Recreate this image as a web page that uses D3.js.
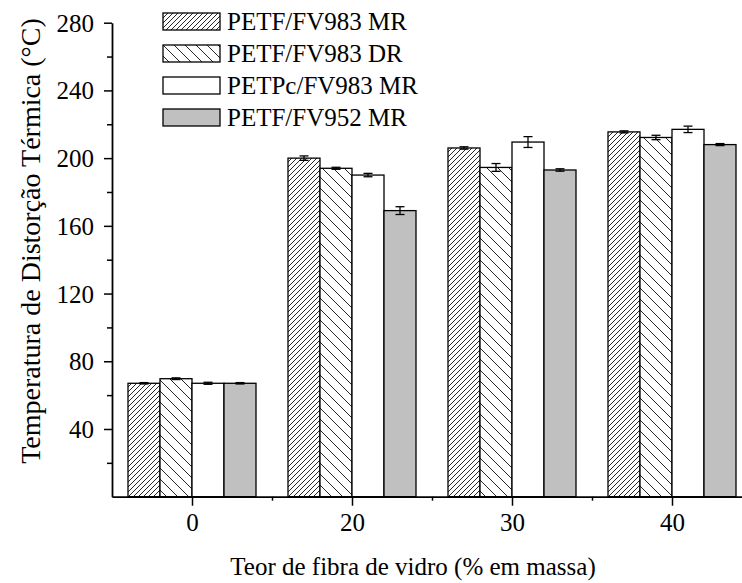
<!DOCTYPE html>
<html><head><meta charset="utf-8">
<script src="https://cdn.jsdelivr.net/npm/d3@7"></script>
<style>body{margin:0;background:#fff}svg{display:block}</style>
</head><body><svg id="c" width="742" height="583"></svg>
<script>
const categories = ["0", "20", "30", "40"];
const seriesNames = ["PETF/FV983 MR", "PETF/FV983 DR", "PETPc/FV983 MR", "PETF/FV952 MR"];
const petfFv983MR = [67, 200, 206, 215.5];
const petfFv983DR = [69.7, 194, 194.5, 212.2];
const petpcFv983MR = [67, 190, 209.5, 217];
const petfFv952MR = [67, 169, 193, 208];
const errFv983MR = [0.4, 1.3, 0.7, 0.6];
const errFv983DR = [0.5, 0.6, 2.3, 1.3];
const errPcFv983MR = [0.6, 1.0, 3.2, 1.9];
const errFv952MR = [0.4, 2.3, 0.7, 0.6];
const yTicks = [40, 80, 120, 160, 200, 240, 280];

const values = [petfFv983MR, petfFv983DR, petpcFv983MR, petfFv952MR];
const errors = [errFv983MR, errFv983DR, errPcFv983MR, errFv952MR];
const FONT = "'Liberation Serif', 'Times New Roman', 'DejaVu Serif', serif";

const svg = d3.select("#c");
const L = 112, R = 752, T = 22.7, B = 496.7;

const defs = svg.append("defs");
function hatch(id, size, dir) {
  const p = defs.append("pattern").attr("id", id).attr("patternUnits", "userSpaceOnUse")
    .attr("width", size).attr("height", size);
  p.append("rect").attr("width", size).attr("height", size).attr("fill", "#fff");
  const g = p.append("g").attr("stroke", "#000").attr("stroke-width", 0.85);
  if (dir > 0) {
    g.append("line").attr("x1", 0).attr("y1", size).attr("x2", size).attr("y2", 0);
    g.append("line").attr("x1", -size).attr("y1", size).attr("x2", 0).attr("y2", 0);
    g.append("line").attr("x1", size).attr("y1", size).attr("x2", 2*size).attr("y2", 0);
  } else {
    g.append("line").attr("x1", 0).attr("y1", 0).attr("x2", size).attr("y2", size);
    g.append("line").attr("x1", -size).attr("y1", 0).attr("x2", 0).attr("y2", size);
    g.append("line").attr("x1", size).attr("y1", 0).attr("x2", 2*size).attr("y2", size);
  }
}
hatch("h1", 5, 1);
hatch("h2", 11, -1);
const fills = ["url(#h1)", "url(#h2)", "#fff", "#c0c0c0"];

const x = d3.scaleLinear().domain([-0.5, 3.5]).range([L, R]);
const y = d3.scaleLinear().domain([0, 280]).range([B, T]);
const groupW = x(1) - x(0);
const xs = d3.scaleBand().domain(d3.range(4)).range([-groupW * 0.4, groupW * 0.4]).padding(0);

for (let s = 0; s < 4; s++) {
  const g = svg.append("g");
  g.selectAll("rect").data(values[s]).join("rect")
    .attr("x", (d, i) => x(i) + xs(s))
    .attr("y", d => y(d))
    .attr("width", xs.bandwidth())
    .attr("height", d => y(0) - y(d))
    .attr("fill", fills[s]).attr("stroke", "#000").attr("stroke-width", 1.3);
}
for (let s = 0; s < 4; s++) {
  const g = svg.append("g").attr("stroke", "#000").attr("stroke-width", 1.3);
  values[s].forEach((v, i) => {
    const cx = x(i) + xs(s) + xs.bandwidth() / 2;
    const e = errors[s][i];
    g.append("line").attr("x1", cx).attr("x2", cx).attr("y1", y(v + e)).attr("y2", y(v - e));
    g.append("line").attr("x1", cx - 4.5).attr("x2", cx + 4.5).attr("y1", y(v + e)).attr("y2", y(v + e));
    g.append("line").attr("x1", cx - 4.5).attr("x2", cx + 4.5).attr("y1", y(v - e)).attr("y2", y(v - e));
  });
}

const yAx = svg.append("g").attr("transform", `translate(${L},0)`)
  .call(d3.axisLeft(y).tickValues(yTicks).tickSize(8).tickSizeOuter(0).tickPadding(10));
yAx.selectAll("text").attr("dy", "0.34em");
const yMinor = svg.append("g").attr("transform", `translate(${L},0)`)
  .call(d3.axisLeft(y).tickValues(d3.range(20, 280, 40)).tickSize(5).tickFormat(""));
yMinor.select(".domain").remove();
const xAx = svg.append("g").attr("transform", `translate(0,${B})`)
  .call(d3.axisBottom(x).tickValues([0, 1, 2, 3]).tickFormat(i => categories[i]).tickSize(9).tickSizeOuter(0).tickPadding(8));
xAx.selectAll("text").attr("dy", "0.71em");
const xMinor = svg.append("g").attr("transform", `translate(0,${B})`)
  .call(d3.axisBottom(x).tickValues([0.5, 1.5, 2.5]).tickSize(4).tickFormat(""));
xMinor.select(".domain").remove();
svg.selectAll(".domain").attr("stroke-width", 1.8);
svg.selectAll(".tick line").attr("stroke-width", 1.5);
svg.selectAll(".tick text").style("font-size", "25px");

svg.append("text").attr("transform", `translate(40,241) rotate(-90)`)
  .attr("text-anchor", "middle").style("font-size", "28px")
  .text("Temperatura de Distorção Térmica (°C)");
svg.append("text").attr("x", 413).attr("y", 575).attr("text-anchor", "middle")
  .style("font-size", "25px").text("Teor de fibra de vidro (% em massa)");

const lg = svg.append("g").attr("transform", "translate(163,13)");
seriesNames.forEach((n, i) => {
  const row = lg.append("g").attr("transform", `translate(0,${i * 32})`);
  row.append("rect").attr("width", 57).attr("height", 17)
    .attr("fill", fills[i]).attr("stroke", "#000").attr("stroke-width", 1.3);
  row.append("text").attr("x", 64).attr("y", 8.5).attr("dy", "0.35em")
    .style("font-size", "25px").text(n);
});
svg.selectAll("text").style("font-family", FONT).style("fill", "#000");
svg.selectAll("g").attr("font-family", null);
</script></body></html>
